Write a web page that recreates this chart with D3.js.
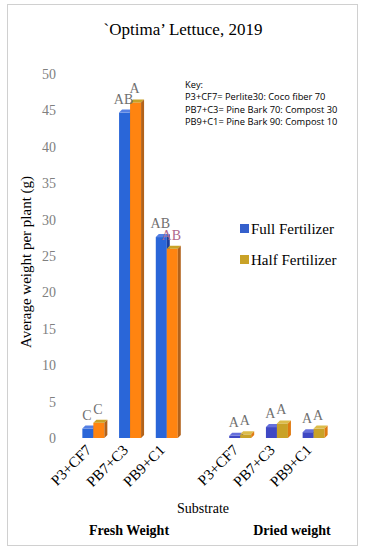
<!DOCTYPE html>
<html>
<head>
<meta charset="utf-8">
<script src="https://cdn.jsdelivr.net/npm/d3@7"></script>
<style>
  body { margin: 0; background: #fff; }
  svg { display: block; }
</style>
</head>
<body>
<div id="chart"></div>
<script>
// data
var substrates = ["P3+CF7", "PB7+C3", "PB9+C1"];
var groups = ["Fresh Weight", "Dried weight"];
var series = ["Full Fertilizer", "Half Fertilizer"];
var freshFull = [1.3, 44.7, 27.6];
var freshHalf = [2.1, 46.1, 26.0];
var driedFull = [0.3, 1.5, 0.8];
var driedHalf = [0.5, 2.0, 1.3];
var freshLetters = [["C", "C"], ["AB", "A"], ["AB", "AB"]];
var driedLetters = [["A", "A"], ["A", "A"], ["A", "A"]];
var yTicks = [0, 5, 10, 15, 20, 25, 30, 35, 40, 45, 50];
var keyLines = ["Key:", "P3+CF7= Perlite30: Coco fiber 70",
  "PB7+C3= Pine Bark 70: Compost 30", "PB9+C1= Pine Bark 90: Compost 10"];

var width = 366, height = 550;
var serif = "'Liberation Serif', 'Times New Roman', serif";

var svg = d3.select("#chart").append("svg")
  .attr("width", width)
  .attr("height", height);

// frame
svg.append("rect")
  .attr("x", 7.5).attr("y", 4.5)
  .attr("width", 350).attr("height", 541)
  .attr("fill", "none").attr("stroke", "#d0d0d0");

svg.append("text")
  .attr("x", 183).attr("y", 35)
  .attr("text-anchor", "middle")
  .style("font-family", serif).style("font-size", "17px")
  .text("`Optima\u2019 Lettuce, 2019");

// build rows
var rows = [];
groups.forEach(function(g, gi) {
  substrates.forEach(function(s, si) {
    rows.push({
      key: g + "|" + s, group: g, substrate: s,
      full: gi == 0 ? freshFull[si] : driedFull[si],
      half: gi == 0 ? freshHalf[si] : driedHalf[si],
      letters: gi == 0 ? freshLetters[si] : driedLetters[si],
      gi: gi
    });
  });
});
var slots = rows.slice(0, 3).map(d => d.key).concat(["gap"]).concat(rows.slice(3).map(d => d.key));

var x = d3.scaleBand().domain(slots).range([75, 332]);
var sub = d3.scaleBand().domain(["full", "half"]).range([-11, 11]);
var y = d3.scaleLinear().domain([0, 50]).range([438, 74]);

// y axis (labels only)
var yAxis = svg.append("g")
  .attr("transform", "translate(58,0)")
  .call(d3.axisLeft(y).tickValues(yTicks).tickSize(0).tickPadding(2));
yAxis.select(".domain").remove();
yAxis.selectAll("text")
  .style("font-family", serif).style("font-size", "14px")
  .attr("fill", "#808080");

svg.append("text")
  .attr("transform", "translate(31,262) rotate(-90)")
  .attr("text-anchor", "middle")
  .style("font-family", serif).style("font-size", "15px")
  .text("Average weight per plant (g)");

// bar styles
var faces = {
  full: [{front: "#2a66d8", top: "#5580e4", side: "#1b3f9c"},
         {front: "#3f48c4", top: "#6670dc", side: "#27308a"}],
  half: [{front: "#ff8410", top: "#c9a227", side: "#b2621a"},
         {front: "#c9a227", top: "#dcbc4a", side: "#e07a10"}]
};
var dx = 3, dy = -3;

function bar3d(g, x0, w, v, c) {
  var yt = y(v), yb = y(0);
  g.append("rect")
    .attr("x", x0).attr("y", yt)
    .attr("width", w).attr("height", yb - yt)
    .attr("fill", c.front);
  g.append("path")
    .attr("d", "M" + x0 + "," + yt + "L" + (x0 + dx) + "," + (yt + dy) +
      "L" + (x0 + w + dx) + "," + (yt + dy) + "L" + (x0 + w) + "," + yt + "Z")
    .attr("fill", c.top);
  g.append("path")
    .attr("d", "M" + (x0 + w) + "," + yt + "L" + (x0 + w + dx) + "," + (yt + dy) +
      "L" + (x0 + w + dx) + "," + (yb + dy) + "L" + (x0 + w) + "," + yb + "Z")
    .attr("fill", c.side);
}

var bars = svg.append("g");
rows.forEach(function(d) {
  var cx = x(d.key) + x.bandwidth() / 2;
  ["full", "half"].forEach(function(k, ki) {
    var bx = cx + sub(k);
    bar3d(bars, bx, sub.bandwidth(), d[k], faces[k][d.gi]);
    svg.append("text")
      .attr("x", bx + sub.bandwidth() / 2 - 1)
      .attr("y", y(d[k]) - 9)
      .attr("text-anchor", "middle")
      .style("font-family", serif).style("font-size", "14px")
      .attr("fill", d.gi == 0 && k == "half" && d.letters[ki] == "AB" ? "#b0688c" : "#707070")
      .text(d.letters[ki]);
  });
  // category label
  svg.append("text")
    .attr("transform", "translate(" + (cx - 1) + ",451) rotate(-45)")
    .attr("text-anchor", "end")
    .style("font-family", serif).style("font-size", "15px")
    .text(d.substrate);
});

svg.append("text")
  .attr("x", 203).attr("y", 513)
  .attr("text-anchor", "middle")
  .style("font-family", serif).style("font-size", "14px")
  .text("Substrate");

groups.forEach(function(g, gi) {
  var mid = x(g + "|" + substrates[1]) + x.bandwidth() / 2;
  svg.append("text")
    .attr("x", gi == 0 ? mid - 1 : mid + 15).attr("y", 535)
    .attr("text-anchor", "middle")
    .style("font-family", serif).style("font-size", "14px")
    .style("font-weight", "bold")
    .text(g);
});

// key
svg.append("g").selectAll("text")
  .data(keyLines).enter().append("text")
  .attr("x", 185)
  .attr("y", (d, i) => 88 + i * 12.3)
  .style("font-family", "'Open Sans', 'DejaVu Sans', sans-serif")
  .style("font-size", "9.3px")
  .text(d => d);

// legend
var legend = svg.append("g").selectAll("g")
  .data(series).enter().append("g")
  .attr("transform", (d, i) => "translate(240," + (224 + i * 31) + ")");
legend.append("rect")
  .attr("width", 9).attr("height", 9)
  .attr("fill", (d, i) => i == 0 ? "#3560cc" : "#c9a227");
legend.append("text")
  .attr("x", 11).attr("y", 9.5)
  .style("font-family", serif).style("font-size", "15px")
  .text(d => d);
</script>
</body>
</html>
